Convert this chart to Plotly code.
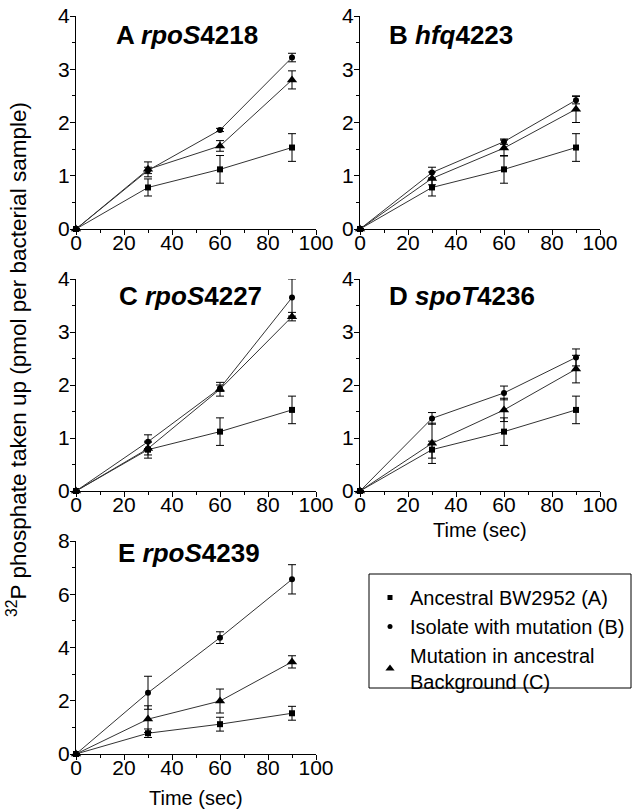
import plotly.graph_objects as go

W, H = 632, 810

time = [0, 30, 60, 90]

# Ancestral BW2952 (A) - same reference in every panel
ancestral = [0, 0.78, 1.12, 1.53]
ancestral_err = [0, 0.16, 0.26, 0.26]

# Isolate with mutation (B)
isolate_A = [0, 1.10, 1.86, 3.22]
isolate_A_err = [0, 0.06, 0.03, 0.08]
isolate_B = [0, 1.06, 1.64, 2.42]
isolate_B_err = [0, 0.10, 0.05, 0.07]
isolate_C = [0, 0.93, 1.94, 3.65]
isolate_C_err = [0, 0.13, 0.06, 0.35]
isolate_D = [0, 1.37, 1.85, 2.52]
isolate_D_err = [0, 0.11, 0.13, 0.16]
isolate_E = [0, 2.30, 4.37, 6.56]
isolate_E_err = [0, 0.62, 0.22, 0.55]

# Mutation in ancestral background (C)
mutant_A = [0, 1.12, 1.56, 2.80]
mutant_A_err = [0, 0.14, 0.10, 0.17]
mutant_B = [0, 0.95, 1.52, 2.25]
mutant_B_err = [0, 0.12, 0.15, 0.25]
mutant_C = [0, 0.80, 1.92, 3.29]
mutant_C_err = [0, 0.12, 0.13, 0.08]
mutant_D = [0, 0.90, 1.53, 2.30]
mutant_D_err = [0, 0.38, 0.22, 0.26]
mutant_E = [0, 1.31, 1.99, 3.46]
mutant_E_err = [0, 0.50, 0.45, 0.23]

panel_titles = ["A <i>rpoS</i>4218", "B <i>hfq</i>4223", "C <i>rpoS</i>4227",
                "D <i>spoT</i>4236", "E <i>rpoS</i>4239"]
series_names = ["Ancestral BW2952 (A)", "Isolate with mutation (B)",
                "Mutation in ancestral<br>Background (C)"]
x_ticks = [0, 20, 40, 60, 80, 100]
y_title = "<sup>32</sup>P phosphate taken up (pmol per bacterial sample)"
x_title = "Time (sec)"

panels = [
    (isolate_A, isolate_A_err, mutant_A, mutant_A_err, 4),
    (isolate_B, isolate_B_err, mutant_B, mutant_B_err, 4),
    (isolate_C, isolate_C_err, mutant_C, mutant_C_err, 4),
    (isolate_D, isolate_D_err, mutant_D, mutant_D_err, 4),
    (isolate_E, isolate_E_err, mutant_E, mutant_E_err, 8),
]

# pixel boxes of plot areas (left, right, top, bottom)
boxes = [
    (76, 316, 16, 229),
    (360, 600, 16, 229),
    (76, 316, 279, 491),
    (360, 600, 279, 491),
    (76, 316, 541, 754),
]

FONT = "Arial, 'Liberation Sans', sans-serif"
LINE = "#333333"

fig = go.Figure()

def px_x(p):
    return p / W

def px_y(p):
    return 1 - p / H

markers = [("square", 6), ("circle", 6), ("triangle-up", 9)]

layout_axes = {}
for i, ((iso, iso_e, mut, mut_e, ymax), box) in enumerate(zip(panels, boxes)):
    n = "" if i == 0 else str(i + 1)
    xa, ya = "x" + n, "y" + n
    series = [(ancestral, ancestral_err), (iso, iso_e), (mut, mut_e)]
    for k, (vals, errs) in enumerate(series):
        sym, sz = markers[k]
        fig.add_trace(go.Scatter(
            x=time, y=vals, xaxis=xa, yaxis=ya, mode="lines+markers",
            line=dict(color=LINE, width=1),
            marker=dict(symbol=sym, size=sz, color="black"),
            error_y=dict(type="data", array=errs, visible=True,
                         color="black", thickness=1, width=4),
            cliponaxis=False, showlegend=False, hoverinfo="skip"))
    l, r, t, b = box
    dtick_y = 1 if ymax == 4 else 2
    layout_axes["xaxis" + n] = dict(
        domain=[px_x(l), px_x(r)], anchor=ya, range=[0, 100],
        automargin=False,
        tickvals=x_ticks, ticks="outside", ticklen=5, tickwidth=1,
        tickcolor="black", showline=True, linecolor="black", linewidth=1,
        showgrid=False, zeroline=False, ticklabelstandoff=-10,
        tickfont=dict(family=FONT, size=21, color="black"),
        minor=dict(dtick=10, tick0=0, ticks="outside", ticklen=3,
                   tickcolor="black", showgrid=False),
    )
    layout_axes["yaxis" + n] = dict(
        domain=[px_y(b), px_y(t)], anchor=xa, range=[0, ymax],
        automargin=False,
        dtick=dtick_y, tick0=0, ticks="outside", ticklen=5, tickwidth=1,
        tickcolor="black", showline=True, linecolor="black", linewidth=1,
        showgrid=False, zeroline=False, ticklabelstandoff=-4,
        tickfont=dict(family=FONT, size=21, color="black"),
        minor=dict(dtick=dtick_y / 2, tick0=0, ticks="outside", ticklen=3,
                   tickcolor="black", showgrid=False),
    )

# legend-only traces
for k, name in enumerate(series_names):
    sym, sz = markers[k]
    fig.add_trace(go.Scatter(
        x=[None], y=[None], mode="markers", name=name,
        marker=dict(symbol=sym, size=sz - 1, color="black"),
        showlegend=True))

annotations = []
title_pos = [(187, 35), (451, 35), (190, 296), (462, 296), (189, 553)]
for txt, (tx, ty) in zip(panel_titles, title_pos):
    annotations.append(dict(
        text="<b>" + txt + "</b>", x=px_x(tx), y=px_y(ty), xref="paper",
        yref="paper", xanchor="center", yanchor="middle", showarrow=False,
        font=dict(family=FONT, size=26, color="black")))

for cx, cy in [(480, 530), (196, 798)]:
    annotations.append(dict(
        text=x_title, x=px_x(cx), y=px_y(cy), xref="paper", yref="paper",
        xanchor="center", yanchor="middle", showarrow=False,
        font=dict(family=FONT, size=20, color="black")))

annotations.append(dict(
    text=y_title, x=px_x(17), y=px_y(360), xref="paper", yref="paper",
    xanchor="center", yanchor="middle", showarrow=False, textangle=-90,
    font=dict(family=FONT, size=22.5, color="black")))

fig.update_layout(
    template="none",
    width=W, height=H, margin=dict(l=0, r=0, t=0, b=0),
    paper_bgcolor="white", plot_bgcolor="white",
    annotations=annotations,
    shapes=[dict(type="rect", xref="paper", yref="paper",
                 x0=px_x(369), x1=px_x(631), y0=px_y(688), y1=px_y(574),
                 line=dict(color="black", width=1))],
    legend=dict(x=px_x(370), y=px_y(578), xanchor="left", yanchor="top",
                bgcolor="rgba(0,0,0,0)", borderwidth=0,
                font=dict(family=FONT, size=20, color="black"),
                itemwidth=30, tracegroupgap=0),
    **layout_axes,
)

fig.write_html(
    "out.html",
    config={"displayModeBar": False},
    post_script="document.body.style.margin='0';"
                "document.body.style.overflow='hidden';")
